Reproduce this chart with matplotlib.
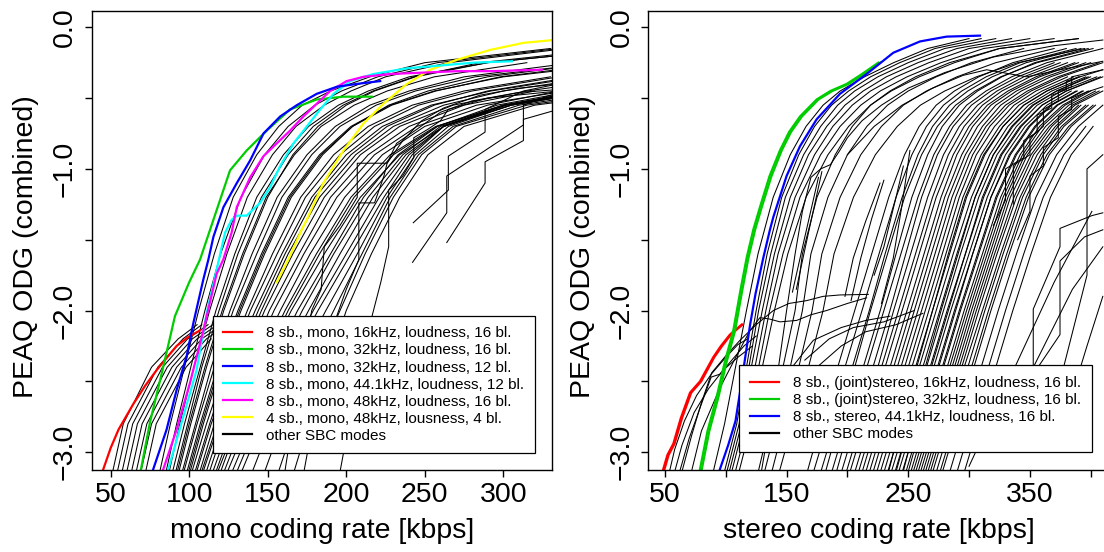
import matplotlib
matplotlib.use("Agg")
import matplotlib.pyplot as plt
from matplotlib.lines import Line2D

plt.rcParams["font.family"] = ["Liberation Sans", "DejaVu Sans"]

# ---------------- mono panel ----------------
mono_red_x = [44, 45.3, 50, 55, 64.4, 72, 79.3, 86, 92, 99, 106.9]
mono_red_y = [-3.16, -3.12, -2.97, -2.84, -2.66, -2.53, -2.42, -2.33, -2.25, -2.19, -2.14]
mono_green_x = [68, 69.3, 75, 83, 90.9, 100, 106.9, 117.5, 126, 136.6, 149.3, 164.2, 181.2, 198.2, 216.2]
mono_green_y = [-3.16, -3.12, -2.79, -2.42, -2.04, -1.80, -1.64, -1.29, -1.01, -0.87, -0.73, -0.58, -0.51, -0.49, -0.49]
mono_blue_x = [76, 77.1, 85.6, 92, 98.4, 102.6, 109, 112.2, 115.4, 121.8, 130.3, 138.8, 147.3, 157.9,
               168.5, 181.2, 194, 206.7, 221.6]
mono_blue_y = [-3.16, -3.12, -2.84, -2.56, -2.32, -2.09, -1.78, -1.64, -1.48, -1.27, -1.10, -0.94, -0.75, -0.63,
               -0.55, -0.47, -0.42, -0.40, -0.38]
mono_cyan_x = [85, 86.7, 96.2, 104.7, 111.1, 117.5, 122.8, 127, 130.3, 136.6, 145.1, 151.5, 157.9, 166.4,
               174.9, 183.4, 191.9, 202.5, 217.3, 238.6, 259.8, 281, 305.5]
mono_cyan_y = [-3.16, -3.12, -2.75, -2.42, -2.02, -1.71, -1.45, -1.36, -1.33, -1.33, -1.24, -1.13, -0.98, -0.82,
               -0.70, -0.58, -0.47, -0.38, -0.33, -0.29, -0.27, -0.25, -0.24]
mono_magenta_x = [82, 83.5, 92, 100.5, 109, 117.5, 121.7, 127, 130.3, 138.8, 147.3, 155.7, 164.2, 172.7,
                  181.2, 189.7, 200.3, 210.9, 227.9, 249.2, 270.4, 291.6, 324.5]
mono_magenta_y = [-3.16, -3.12, -2.84, -2.51, -2.14, -1.74, -1.64, -1.45, -1.27, -1.06, -0.91, -0.82, -0.73, -0.63,
                  -0.54, -0.45, -0.38, -0.35, -0.33, -0.32, -0.31, -0.31, -0.30]
mono_yellow_x = [155.7, 163.1, 171.6, 174.8, 185.4, 198.2, 210.9, 223.7, 238.6, 253.5, 270.4, 291.6, 312.9, 332]
mono_yellow_y = [-1.80, -1.64, -1.43, -1.36, -1.10, -0.87, -0.68, -0.54, -0.40, -0.30, -0.23, -0.16, -0.11, -0.09]

# other SBC modes: rate at which each curve crosses these ODG levels
MONO_LEVELS = [-3.2, -2.8, -2.4, -2.0, -1.6, -1.2, -0.9, -0.7, -0.55, -0.45, -0.35, -0.25, -0.15]
mono_bundle = [
    [80, 88, 97, 106, 116, 128, 143, 157, 172, 190, 215, 250, 330],
    [84, 92, 101, 110, 120, 133, 148, 163, 180, 197, 220, 258, 335],
    [86, 94, 103, 113, 124, 137, 153, 168, 186, 203, 225, 265, 340],
    [88, 97, 107, 117, 129, 143, 160, 176, 195, 214, 240, 290, 380],
    [90, 99, 108, 119, 131, 146, 163, 179, 198, 217, 243, 285, 370],
    [91, 100, 110, 121, 134, 149, 167, 184, 205, 226, 256, 315],
    [92, 101, 111, 122, 135, 150, 166, 182, 200, 218, 244, 290, 380],
    [94, 104, 114, 126, 140, 156, 175, 193, 215, 240, 275, 345],
    [95, 105, 116, 128, 143, 159, 178, 196, 219, 244, 282, 360],
    [97, 107, 118, 131, 146, 163, 183, 203, 228, 256, 300, 380],
    [98, 108, 119, 132, 147, 164, 184, 204, 229, 257, 298, 370],
    [99, 109, 120, 133, 148, 165, 185, 204, 227, 252, 290, 360],
    [100, 111, 123, 137, 153, 171, 192, 214, 242, 275, 330],
    [102, 113, 125, 139, 156, 174, 196, 218, 246, 280, 335],
    [103, 114, 127, 142, 159, 178, 200, 223, 254, 292, 350],
    [105, 116, 129, 144, 161, 180, 203, 226, 256, 290, 345],
    [106, 118, 131, 146, 163, 183, 206, 230, 262, 300, 360],
    [107, 119, 133, 148, 166, 186, 209, 234, 268, 315, 380],
    [109, 121, 136, 151, 170, 190, 214, 240, 275, 320],
    [111, 123, 138, 154, 173, 194, 218, 245, 283, 340],
    [113, 126, 141, 158, 177, 199, 223, 250, 290, 335],
    [115, 128, 144, 161, 181, 203, 228, 257, 300, 360],
    [116, 130, 146, 163, 183, 205, 230, 258, 296, 345],
    [118, 131, 147, 165, 186, 209, 234, 262, 305, 360],
    [120, 134, 151, 169, 190, 211, 233, 258, 300, 350],
    [122, 137, 154, 172, 192, 214, 236, 260, 302, 355],
    [125, 140, 157, 176, 196, 217, 238, 262, 305, 360],
    [128, 143, 160, 179, 200, 221, 240, 262, 302, 352],
    [131, 146, 163, 182, 203, 224, 242, 262, 300, 350],
    [138, 152, 168, 187, 207, 226, 244, 265, 305, 360],
    [146, 159, 174, 192, 210, 228, 246, 268, 310, 370],
    [155, 167, 180, 196, 212, 230, 248, 270, 315, 380],
    [165, 176, 188, 200, 216, 234, 252, 275, 320, 390],
]
MONO_LOW_LEVELS = [-3.2, -2.8, -2.4, -2.2, -2.1]
mono_low = [
    [50, 58, 76, 93, 105],
    [53, 61, 80, 96, 108],
    [56, 64, 83, 99, 112],
    [59, 67, 86, 102, 115],
    [62, 70, 89, 105, 118],
    [65, 73, 92, 108, 121],
    [68, 76, 95, 111, 124],
    [71, 79, 98, 114],
]
mono_steps = [
    ([172, 182, 192, 200, 208, 208, 218, 224, 226, 236, 248, 262, 285, 310, 335],
     [-3.2, -2.6, -2.1, -1.85, -1.64, -1.24, -1.24, -1.05, -0.96, -0.8, -0.66, -0.57, -0.48, -0.43, -0.40]),
    ([160, 170, 178, 184, 186, 196, 207, 207, 226, 232, 245, 260, 280, 310, 335],
     [-3.2, -2.5, -2.0, -1.85, -1.55, -1.4, -1.2, -0.96, -0.96, -0.82, -0.72, -0.6, -0.52, -0.46, -0.44]),
    ([195, 205, 215, 222, 227, 227, 236, 243, 243, 252, 260, 265, 290, 335],
     [-3.2, -2.6, -2.1, -1.8, -1.55, -1.15, -1.05, -0.92, -0.78, -0.72, -0.66, -0.58, -0.5, -0.45]),
    ([242.7, 265, 265, 288.4, 288.4, 312.8, 335],
     [-1.38, -1.15, -0.91, -0.74, -0.58, -0.45, -0.40]),
    ([242.2, 264, 264, 288.4, 312.8, 312.8, 329.7, 335],
     [-1.66, -1.31, -1.05, -0.87, -0.69, -0.55, -0.48, -0.47]),
    ([264, 288.4, 288.4, 312.8, 312.8, 335],
     [-1.52, -1.10, -0.95, -0.80, -0.65, -0.58]),
]

# ---------------- stereo panel ----------------
stereo_red_x = [47.5, 48.6, 52, 56.9, 63, 70.6, 78.8, 89.7, 96, 103.4, 113]
stereo_red_y = [-3.16, -3.12, -3.02, -2.94, -2.76, -2.58, -2.50, -2.33, -2.25, -2.17, -2.10]
stereo_red2_x = [48.5, 49.6, 53, 57.9, 64, 71.6, 79.8, 90.5, 97, 104.2, 113.6]
stereo_green_x = [78, 78.8, 85, 92.5, 99, 106.2, 112, 117.1, 122.6, 128.1, 136, 144.5, 152, 161, 174.7,
                  186, 199.4, 212, 225.4]
stereo_green_y = [-3.16, -3.12, -2.85, -2.61, -2.37, -2.14, -1.86, -1.63, -1.43, -1.27, -1.05, -0.87, -0.74,
                  -0.63, -0.51, -0.45, -0.40, -0.33, -0.25]
stereo_green2_x = [79.5, 80.3, 86.5, 94, 100.5, 107.7, 113.5, 118.6, 124.1, 129.6, 137.6, 146, 153.6, 162.6,
                   176.2, 187.6, 201, 213.6, 227]
stereo_blue_x = [94, 95.2, 102, 108, 112, 116, 120, 124.5, 130.8, 136.3, 139.1, 150, 161, 174.7, 193.9,
                 215.8, 237.7, 259.7, 281.6, 309]
stereo_blue_y = [-3.16, -3.12, -2.95, -2.78, -2.56, -2.33, -2.10, -1.88, -1.63, -1.43, -1.34, -1.05, -0.84,
                 -0.65, -0.47, -0.33, -0.18, -0.10, -0.066, -0.059]

STEREO_LEVELS = [-3.2, -2.8, -2.4, -2.0, -1.6, -1.2, -0.9, -0.7, -0.55, -0.45, -0.35, -0.25, -0.15, -0.08]
stereo_bundle = [
    # close to the 44.1 kHz stereo curve
    [88, 99, 108, 117, 126.5, 139, 153, 166, 180, 194, 214, 238, 266, 300],
    [97, 109, 117, 125, 134, 146, 160, 173, 187, 201, 219, 243, 272, 310],
    [99, 111, 119, 127, 137, 149, 164, 178, 192, 206, 225, 250, 280, 322],
    [101, 113, 121, 130, 140, 153, 168, 183, 198, 213, 232, 258, 290, 335],
    [103, 115, 124, 133, 143, 157, 173, 188, 204, 219, 240, 267, 300, 350],
    [106, 118, 127, 136, 147, 161, 178, 194, 211, 227, 249, 277, 312, 370],
    [109, 121, 130, 140, 151, 166, 184, 201, 219, 236, 259, 288, 325, 390],
    [125, 136, 147, 157, 163, 175, 190, 204, 219, 235, 256, 284, 325, 390],
    [130, 142, 153, 163, 170, 184, 200, 216, 233, 250, 273, 302, 345],
    [136, 148, 160, 171, 179, 194, 211, 228, 246, 265, 290, 322, 370],
    [142, 155, 168, 180, 189, 205, 223, 241, 260, 280, 306, 340, 395],
    # main bundle
    [165, 178, 192, 206, 220, 234, 247, 259, 273, 288, 308, 336, 380],
    [170, 184, 198, 212, 226, 240, 253, 265, 279, 294, 314, 342, 388],
    [176, 190, 204, 218, 231, 245, 258, 270, 284, 299, 319, 347, 392],
    [180, 193, 206, 219, 233, 247, 261, 274, 289, 305, 326, 356, 402],
    [185, 199, 213, 227, 240, 253, 266, 278, 292, 307, 327, 354, 398],
    [189, 202, 216, 230, 244, 258, 271, 284, 298, 314, 335, 364, 410],
    [193, 207, 221, 235, 248, 261, 274, 287, 302, 318, 340, 370],
    [197, 211, 225, 238, 252, 266, 279, 292, 307, 323, 345, 375],
    [200, 214, 228, 242, 256, 270, 283, 296, 311, 327, 350, 381],
    [204, 218, 231, 245, 259, 273, 287, 300, 315, 332, 355, 387],
    [207, 221, 235, 249, 263, 277, 290, 303, 318, 335, 358, 390],
    [210, 224, 238, 252, 266, 280, 294, 307, 322, 339, 363, 396],
    [213, 227, 241, 255, 269, 283, 297, 311, 326, 343, 367, 400],
    [216, 230, 244, 258, 272, 286, 300, 314, 330, 348, 373, 407],
    [219, 233, 247, 261, 275, 289, 303, 317, 333, 351, 376, 410],
    [222, 236, 250, 264, 278, 292, 306, 321, 337, 355, 381],
    [225, 239, 253, 267, 281, 295, 310, 325, 341, 360, 386],
    [228, 242, 256, 270, 284, 298, 313, 328, 345, 364, 391],
    [231, 245, 259, 273, 287, 302, 317, 332, 349, 368, 396],
    [232, 244, 257, 270, 283, 297, 312, 328, 345, 364, 390],
    [234, 248, 262, 276, 290, 305, 320, 335, 352, 372, 400],
    [237, 251, 265, 279, 293, 308, 323, 339, 356, 376, 405],
    [238, 251, 264, 277, 291, 305, 320, 336, 353, 372, 398],
    [240, 254, 268, 282, 297, 312, 327, 343, 360, 380, 410],
    [243, 257, 271, 285, 300, 315, 330, 346, 364, 384],
    [244, 256, 269, 283, 297, 311, 326, 342, 360, 380, 408],
    [246, 260, 274, 288, 303, 318, 334, 350, 368, 389],
    [248, 261, 275, 289, 303, 318, 333, 349, 367, 388],
    [250, 264, 278, 292, 307, 322, 338, 354, 372, 393],
    [252, 266, 279, 293, 308, 323, 339, 355, 373, 394],
    [254, 268, 282, 296, 311, 326, 342, 358, 377, 398],
    [256, 270, 284, 298, 313, 328, 344, 360, 379, 400],
    [258, 272, 286, 300, 315, 330, 346, 363, 382, 404],
    [260, 274, 288, 302, 317, 332, 348, 366, 385, 407],
    [262, 276, 290, 304, 319, 334, 351, 368, 387, 410],
    [264, 278, 292, 306, 321, 337, 353, 371, 390],
    [266, 280, 294, 308, 323, 339, 356, 373, 392],
    [268, 282, 296, 311, 326, 342, 359, 376, 396],
    [271, 285, 299, 313, 328, 344, 361, 378, 398],
    [274, 288, 302, 316, 331, 347, 364, 382, 402],
    [276, 290, 304, 318, 333, 349, 366, 384, 404],
    [282, 296, 310, 324, 339, 355, 372, 390, 410],
    [288, 302, 316, 330, 345, 361, 378, 396],
    [294, 308, 322, 336, 351, 367, 384, 402],
]
stereo_paths = [
    ([128, 140, 150, 157, 163, 170, 178, 186, 193, 200, 212, 228, 250, 280, 320, 370, 410],
     [-3.2, -2.6, -2.0, -1.6, -1.3, -1.06, -1.0, -0.97, -0.88, -0.78, -0.66, -0.55, -0.43, -0.32, -0.21, -0.13, -0.09]),
    ([62, 72, 80, 88.4, 100, 111.7, 125, 139.1, 152, 166.5, 180, 193.9, 217.2],
     [-3.2, -2.88, -2.65, -2.44, -2.32, -2.21, -2.1, -2.0, -1.95, -1.93, -1.9, -1.89, -1.886]),
    ([70, 80, 95, 110, 120, 128.1, 136, 144.5, 158.2, 170, 182.9, 200, 215.8],
     [-3.2, -2.85, -2.55, -2.3, -2.14, -2.05, -2.06, -2.08, -2.07, -2.03, -2.0, -1.95, -1.91]),
    ([52, 58, 66, 76, 88, 100, 110, 118],
     [-3.2, -2.98, -2.78, -2.6, -2.45, -2.33, -2.24, -2.2]),
    ([56, 64, 74, 86, 98, 110, 122],
     [-3.2, -2.95, -2.72, -2.55, -2.42, -2.33, -2.25]),
    ([60, 70, 80, 88, 95, 105, 115, 125],
     [-3.2, -2.9, -2.66, -2.47, -2.45, -2.35, -2.25, -2.18]),
    ([150, 172, 195, 215, 235], [-2.45, -2.21, -2.12, -2.07, -2.04]),
    ([165, 185, 205, 230, 255], [-2.35, -2.2, -2.12, -2.08, -2.0]),
    ([175, 195, 215, 240, 262], [-2.4, -2.25, -2.15, -2.1, -2.02]),
    ([154.8, 165, 176.2], [-1.87, -1.48, -1.06]),
    ([158, 168, 179], [-1.85, -1.45, -1.02]),
    ([198, 204.8, 215, 226.8], [-1.9, -1.63, -1.37, -1.10]),
    ([203, 211, 220, 230], [-1.93, -1.63, -1.35, -1.08]),
    ([228, 237.7, 245, 251.4], [-1.95, -1.63, -1.25, -0.87]),
    ([222, 230, 240, 246], [-1.75, -1.55, -1.2, -0.98]),
    ([200, 222, 245, 270, 295, 314.5, 347.4, 375, 410],
     [-0.90, -0.7, -0.55, -0.43, -0.34, -0.30, -0.35, -0.30, -0.24]),
    ([336.4, 336.4, 350.1, 350.1, 361.1, 361.1, 373.4, 373.4, 384.4, 384.4, 410],
     [-1.25, -0.975, -0.90, -0.78, -0.70, -0.58, -0.52, -0.45, -0.42, -0.35, -0.30]),
    ([320, 330, 330, 345, 345, 356, 356, 368, 368, 380, 380, 395, 410],
     [-1.40, -1.22, -1.0, -0.92, -0.8, -0.74, -0.62, -0.57, -0.48, -0.44, -0.38, -0.34, -0.30]),
    ([340, 350.1, 350.1, 361.1, 361.1, 373.4, 373.4, 384.4, 384.4, 396, 410],
     [-1.5, -1.3, -1.05, -0.98, -0.85, -0.78, -0.63, -0.58, -0.50, -0.46, -0.42]),
    ([330, 352.8, 352.8, 374.8, 374.8, 401, 410], [-2.55, -2.39, -1.99, -1.55, -1.42, -1.33, -1.31]),
    ([335, 352.8, 374.8, 374.8, 395, 410], [-2.9, -2.45, -2.17, -1.65, -1.48, -1.43]),
    ([352.8, 374.8, 397, 397, 410], [-2.9, -2.5, -1.75, -1.0, -0.9]),
    ([300, 335, 370, 401], [-3.1, -2.45, -1.8, -1.3]),
    ([320, 350, 385, 410], [-3.0, -2.45, -1.85, -1.55]),
    ([372, 397, 410], [-2.95, -2.25, -1.9]),
]

Y_TICKS = [-3.0, -2.5, -2.0, -1.5, -1.0, -0.5, 0.0]
Y_LABELS = ["\u22123.0", "", "\u22122.0", "", "\u22121.0", "", "0.0"]

mono_labels = ["8 sb., mono, 16kHz, loudness, 16 bl.",
               "8 sb., mono, 32kHz, loudness, 16 bl.",
               "8 sb., mono, 32kHz, loudness, 12 bl.",
               "8 sb., mono, 44.1kHz, loudness, 12 bl.",
               "8 sb., mono, 48kHz, loudness, 16 bl.",
               "4 sb., mono, 48kHz, lousness, 4 bl.",
               "other SBC modes"]
stereo_labels = ["8 sb., (joint)stereo, 16kHz, loudness, 16 bl.",
                 "8 sb., (joint)stereo, 32kHz, loudness, 16 bl.",
                 "8 sb., stereo, 44.1kHz, loudness, 16 bl.",
                 "other SBC modes"]

RED, GREEN, BLUE, CYAN, MAGENTA, YELLOW = "#FF0000", "#00CD00", "#0000FF", "#00FFFF", "#FF00FF", "#FFFF00"
FS = 20.5
BLACK_LW = 0.75
COL_LW = 1.6

fig = plt.figure(figsize=(11.04, 5.52), dpi=100)
ax1 = fig.add_axes([91.7 / 1104, 82 / 552, 460.6 / 1104, 459.3 / 552])
ax2 = fig.add_axes([648.3 / 1104, 82 / 552, 460.6 / 1104, 459.3 / 552])

# mono
for xs in mono_bundle:
    ax1.plot(xs, MONO_LEVELS[:len(xs)], color="black", lw=BLACK_LW)
for xs in mono_low:
    ax1.plot(xs, MONO_LOW_LEVELS[:len(xs)], color="black", lw=BLACK_LW)
for xs, ys in mono_steps:
    ax1.plot(xs, ys, color="black", lw=BLACK_LW)
ax1.plot(mono_yellow_x, mono_yellow_y, color=YELLOW, lw=COL_LW)
ax1.plot(mono_red_x, mono_red_y, color=RED, lw=COL_LW)
ax1.plot(mono_green_x, mono_green_y, color=GREEN, lw=COL_LW)
ax1.plot(mono_cyan_x, mono_cyan_y, color=CYAN, lw=COL_LW)
ax1.plot(mono_magenta_x, mono_magenta_y, color=MAGENTA, lw=COL_LW)
ax1.plot(mono_blue_x, mono_blue_y, color=BLUE, lw=COL_LW)

# stereo
for xs in stereo_bundle:
    ax2.plot(xs, STEREO_LEVELS[:len(xs)], color="black", lw=BLACK_LW)
for xs, ys in stereo_paths:
    ax2.plot(xs, ys, color="black", lw=BLACK_LW)
ax2.plot(stereo_red_x, stereo_red_y, color=RED, lw=COL_LW)
ax2.plot(stereo_red2_x, stereo_red_y, color=RED, lw=COL_LW)
ax2.plot(stereo_green_x, stereo_green_y, color=GREEN, lw=COL_LW)
ax2.plot(stereo_green2_x, stereo_green_y, color=GREEN, lw=COL_LW)
ax2.plot(stereo_blue_x, stereo_blue_y, color=BLUE, lw=COL_LW)


def style(ax, xlim, xticks, xticklabels, xlabel):
    ax.set_xlim(*xlim)
    ax.set_ylim(-3.126, 0.117)
    ax.set_xticks(xticks)
    ax.set_xticklabels(xticklabels)
    ax.set_yticks(Y_TICKS)
    ax.set_yticklabels(Y_LABELS, rotation=90, va="center")
    ax.tick_params(axis="both", direction="out", length=5, width=1, labelsize=FS)
    ax.tick_params(axis="x", pad=3.6)
    ax.tick_params(axis="y", pad=5)
    for s in ax.spines.values():
        s.set_linewidth(1.0)
    ax.set_xlabel(xlabel, fontsize=FS)
    ax.xaxis.set_label_coords(0.5, -0.105)
    ax.set_ylabel("PEAQ ODG (combined)", fontsize=FS)
    ax.yaxis.set_label_coords(-0.114, 0.487)


style(ax1, (37.9, 331.2), [50, 100, 150, 200, 250, 300],
      ["50", "100", "150", "200", "250", "300"], "mono coding rate [kbps]")
style(ax2, (36.3, 415.0), [50, 100, 150, 200, 250, 300, 350, 400],
      ["50", "", "150", "", "250", "", "350", ""], "stereo coding rate [kbps]")


def add_legend(ax, colors, labels, anchor):
    handles = [Line2D([], [], color=c, lw=1.6) for c in colors]
    leg = ax.legend(handles, labels, loc="lower right", bbox_to_anchor=anchor, fontsize=11,
                    frameon=True, fancybox=False, edgecolor="black", framealpha=1,
                    borderpad=0.69, labelspacing=0.2, handlelength=1.92, handletextpad=0.92,
                    borderaxespad=0)
    leg.get_frame().set_linewidth(0.9)


add_legend(ax1, [RED, GREEN, BLUE, CYAN, MAGENTA, YELLOW, "black"], mono_labels, (0.9624, 0.0364))
add_legend(ax2, [RED, GREEN, BLUE, "black"], stereo_labels, (0.9627, 0.0398))

fig.savefig("out.png", dpi=100)
